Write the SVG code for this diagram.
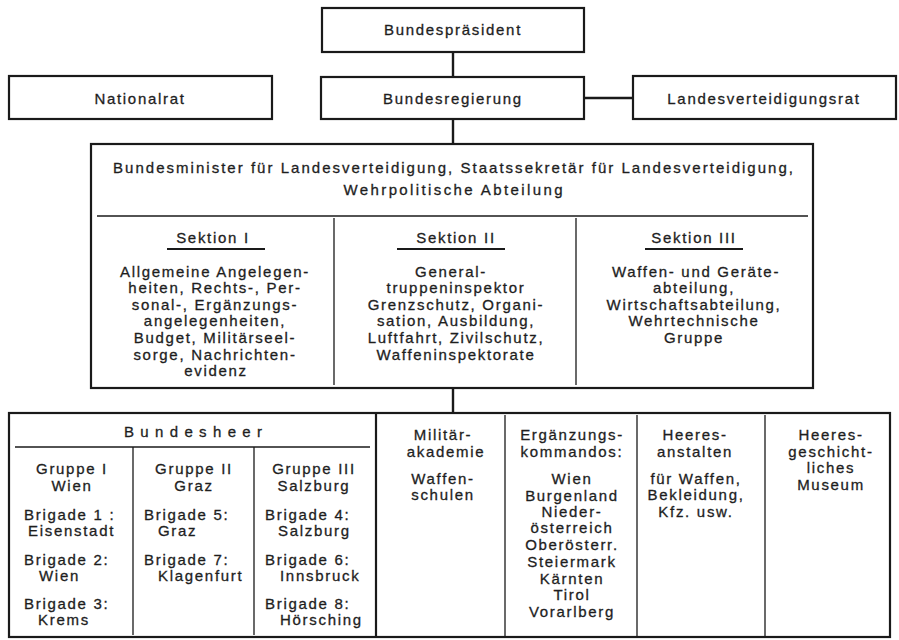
<svg xmlns="http://www.w3.org/2000/svg" width="899" height="640" viewBox="0 0 899 640">
<style>
text{font-family:"Liberation Sans",Arial,sans-serif;font-size:15px;fill:#1e1e1e;stroke:#1e1e1e;stroke-width:0.3px;letter-spacing:1.7px}
.c{text-anchor:middle}
.box{fill:none;stroke:#1a1a1a;stroke-width:2.2}
.div{fill:none;stroke:#1a1a1a;stroke-width:1.3}
.con{fill:none;stroke:#1a1a1a;stroke-width:2.4}
.ul{stroke:#1a1a1a;stroke-width:2}
</style>
<rect width="899" height="640" fill="#fff"/>
<g id="connectors">
<line class="con" x1="453" y1="52" x2="453" y2="77"/>
<line class="con" x1="584" y1="98" x2="633" y2="98"/>
<line class="con" x1="453" y1="119" x2="453" y2="144"/>
<line class="con" x1="453" y1="388" x2="453" y2="413"/>
</g>
<g id="bundespraesident">
<rect class="box" x="322" y="8" width="262" height="44"/>
<text class="c" x="453" y="35">Bundespräsident</text>
</g>
<g id="nationalrat">
<rect class="box" x="9" y="76" width="263" height="43"/>
<text class="c" x="140" y="104">Nationalrat</text>
</g>
<g id="bundesregierung">
<rect class="box" x="321" y="77" width="263" height="42"/>
<text class="c" x="453" y="104">Bundesregierung</text>
</g>
<g id="landesverteidigungsrat">
<rect class="box" x="633" y="76" width="263" height="43"/>
<text class="c" x="764" y="104">Landesverteidigungsrat</text>
</g>
<g id="bundesminister">
<rect class="box" x="91" y="144" width="722" height="244"/>
<text class="c" x="453" y="173" textLength="680" lengthAdjust="spacing" style="letter-spacing:0">Bundesminister für Landesverteidigung, Staatssekretär für Landesverteidigung,</text>
<text class="c" x="453" y="195" textLength="219" lengthAdjust="spacing" style="letter-spacing:0">Wehrpolitische Abteilung</text>
<line class="div" x1="97" y1="216" x2="808" y2="216"/>
<line class="div" x1="334" y1="218" x2="334" y2="385"/>
<line class="div" x1="576" y1="218" x2="576" y2="385"/>
</g>
<g id="sektion1">
<text class="c" x="213" y="243">Sektion I</text>
<line class="ul" x1="167" y1="249" x2="265" y2="249"/>
<text class="c" x="215" y="277">Allgemeine Angelegen-</text>
<text class="c" x="215" y="293">heiten, Rechts-, Per-</text>
<text class="c" x="215" y="310">sonal-, Ergänzungs-</text>
<text class="c" x="215" y="326">angelegenheiten,</text>
<text class="c" x="215" y="343">Budget, Militärseel-</text>
<text class="c" x="215" y="360">sorge, Nachrichten-</text>
<text class="c" x="216" y="376">evidenz</text>
</g>
<g id="sektion2">
<text class="c" x="456" y="243">Sektion II</text>
<line class="ul" x1="397" y1="249" x2="505" y2="249"/>
<text class="c" x="451" y="277">General-</text>
<text class="c" x="456" y="293">truppeninspektor</text>
<text class="c" x="456" y="310">Grenzschutz, Organi-</text>
<text class="c" x="456" y="326">sation, Ausbildung,</text>
<text class="c" x="456" y="343">Luftfahrt, Zivilschutz,</text>
<text class="c" x="456" y="360">Waffeninspektorate</text>
</g>
<g id="sektion3">
<text class="c" x="694" y="243">Sektion III</text>
<line class="ul" x1="645" y1="249" x2="743" y2="249"/>
<text class="c" x="696" y="277">Waffen- und Geräte-</text>
<text class="c" x="694" y="293">abteilung,</text>
<text class="c" x="694" y="310">Wirtschaftsabteilung,</text>
<text class="c" x="694" y="326">Wehrtechnische</text>
<text class="c" x="694" y="343">Gruppe</text>
</g>
<g id="unterstellte">
<rect class="box" x="9" y="413" width="881" height="224"/>
<line class="box" x1="376" y1="413" x2="376" y2="637"/>
<line class="div" x1="505" y1="415" x2="505" y2="636"/>
<line class="div" x1="637" y1="415" x2="637" y2="636"/>
<line class="div" x1="765" y1="415" x2="765" y2="636"/>
</g>
<g id="bundesheer">
<text class="c" x="193" y="437" textLength="138" lengthAdjust="spacing" style="letter-spacing:0">Bundesheer</text>
<line class="div" x1="15" y1="447" x2="370" y2="447"/>
<line class="div" x1="133" y1="447" x2="133" y2="635"/>
<line class="div" x1="254" y1="447" x2="254" y2="635"/>
</g>
<g id="gruppe1">
<text class="c" x="72" y="474">Gruppe I</text>
<text class="c" x="72" y="490.5">Wien</text>
<text x="24" y="520">Brigade 1 :</text>
<text x="28" y="536">Eisenstadt</text>
<text x="24" y="565">Brigade 2:</text>
<text x="39" y="581">Wien</text>
<text x="24" y="609">Brigade 3:</text>
<text x="38" y="625">Krems</text>
</g>
<g id="gruppe2">
<text class="c" x="194" y="474">Gruppe II</text>
<text class="c" x="194" y="490.5">Graz</text>
<text x="144" y="520">Brigade 5:</text>
<text x="158" y="536">Graz</text>
<text x="144" y="565">Brigade 7:</text>
<text x="158" y="581">Klagenfurt</text>
</g>
<g id="gruppe3">
<text class="c" x="314" y="474">Gruppe III</text>
<text class="c" x="314" y="490.5">Salzburg</text>
<text x="265" y="520">Brigade 4:</text>
<text x="278" y="536">Salzburg</text>
<text x="265" y="565">Brigade 6:</text>
<text x="280" y="581">Innsbruck</text>
<text x="265" y="609">Brigade 8:</text>
<text x="280" y="625">Hörsching</text>
</g>
<g id="militaerakademie">
<text class="c" x="443" y="440">Militär-</text>
<text class="c" x="446" y="457">akademie</text>
<text class="c" x="443" y="484">Waffen-</text>
<text class="c" x="443" y="500">schulen</text>
</g>
<g id="ergaenzungskommandos">
<text class="c" x="572" y="440">Ergänzungs-</text>
<text class="c" x="572" y="457">kommandos:</text>
<text class="c" x="572" y="484">Wien</text>
<text class="c" x="572" y="501">Burgenland</text>
<text class="c" x="572" y="517">Nieder-</text>
<text class="c" x="572" y="533">österreich</text>
<text class="c" x="572" y="550">Oberösterr.</text>
<text class="c" x="572" y="567">Steiermark</text>
<text class="c" x="572" y="584">Kärnten</text>
<text class="c" x="572" y="600">Tirol</text>
<text class="c" x="572" y="617">Vorarlberg</text>
</g>
<g id="heeresanstalten">
<text class="c" x="695" y="440">Heeres-</text>
<text class="c" x="695" y="457">anstalten</text>
<text class="c" x="696" y="484">für Waffen,</text>
<text class="c" x="696" y="500">Bekleidung,</text>
<text class="c" x="696" y="517">Kfz. usw.</text>
</g>
<g id="heeresmuseum">
<text class="c" x="831" y="440">Heeres-</text>
<text class="c" x="831" y="457">geschicht-</text>
<text class="c" x="831" y="473">liches</text>
<text class="c" x="831" y="490">Museum</text>
</g>
</svg>
